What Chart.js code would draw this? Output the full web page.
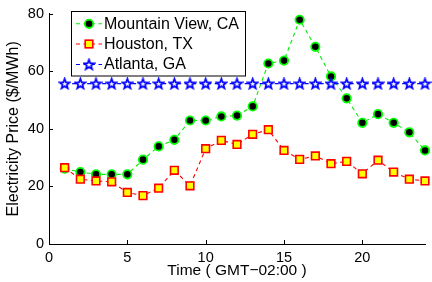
<!DOCTYPE html>
<html><head><meta charset="utf-8">
<script src="https://cdn.jsdelivr.net/npm/chart.js@4/dist/chart.umd.min.js"></script>
<style>html,body{margin:0;padding:0;background:#fff}</style>
</head><body>
<canvas id="c" width="432" height="282"></canvas>
<script>
const hours = [1,2,3,4,5,6,7,8,9,10,11,12,13,14,15,16,17,18,19,20,21,22,23,24];
const mountainView = [26.2,25.0,24.2,24.2,24.2,29.3,33.9,36.2,42.9,42.9,44.3,44.6,47.8,62.7,63.7,77.9,68.5,58.2,50.6,42.1,45.1,42.1,38.8,32.5];
const houston = [26.5,22.5,21.9,21.6,17.9,16.8,19.4,25.6,20.2,33.1,36.0,34.6,38.1,39.7,32.5,29.4,30.6,27.9,28.7,24.4,29.1,25.0,22.5,21.9];
const atlanta = [55.7,55.7,55.7,55.7,55.7,55.7,55.7,55.7,55.7,55.7,55.7,55.7,55.7,55.7,55.7,55.7,55.7,55.7,55.7,55.7,55.7,55.7,55.7,55.7];
const seriesLabels = ['Mountain View, CA','Houston, TX','Atlanta, GA'];
const xTicks = [0,5,10,15,20];
const yTicks = [0,20,40,60,80];
const xTitle = 'Time ( GMT\u221202:00 )';
const yTitle = 'Electricity Price ($/MWh)';

const FAM = '"Liberation Sans", Arial, sans-serif';
const TICKFONT = {family:FAM, size:14.5, lineHeight:1.2};
const XTFONT = {family:FAM, size:15.5, lineHeight:1.2};
const YTFONT = {family:FAM, size:16, lineHeight:1.2};

function makeStar(){
  const c=document.createElement('canvas'); c.width=13; c.height=13;
  const g=c.getContext('2d');
  g.beginPath();
  for(let k=0;k<10;k++){
    const r = k%2 ? 2.2 : 5.3;
    const a = -Math.PI/2 + k*Math.PI/5;
    g.lineTo(6.5 + r*Math.cos(a), 6.9 + r*Math.sin(a));
  }
  g.closePath();
  g.fillStyle='#ffffff'; g.fill();
  g.strokeStyle='#0000ff'; g.lineWidth=1.7; g.lineJoin='miter'; g.stroke();
  return c;
}
const starImg = makeStar();

const pts = vals => hours.map((h,i)=>({x:h, y:vals[i]}));

const dash = [4,3.5];
const datasets = [
  {label:seriesLabels[0], data:pts(mountainView), borderColor:'#00ee00', borderDash:dash, borderWidth:1.1,
   pointStyle:'circle', pointRadius:4.2, pointBackgroundColor:'#000', pointBorderColor:'#00ff00', pointBorderWidth:1.8, order:2, clip:false},
  {label:seriesLabels[1], data:pts(houston), borderColor:'#ff0000', borderDash:dash, borderWidth:1.1,
   pointStyle:'rect', pointRadius:5.4, pointBackgroundColor:'#ffff00', pointBorderColor:'#ff0000', pointBorderWidth:1.6, order:1, clip:false},
  {label:seriesLabels[2], data:pts(atlanta), borderColor:'#0000ff', borderDash:dash, borderWidth:1.1,
   pointStyle:starImg, pointRadius:5, order:0, clip:false}
];

const inwardTicks = {
  id:'inwardTicks',
  afterDraw(chart){
    const ctx=chart.ctx, xs=chart.scales.x, ys=chart.scales.y, a=chart.chartArea;
    ctx.save(); ctx.strokeStyle='#000'; ctx.lineWidth=1;
    xTicks.forEach(v=>{const px=Math.round(xs.getPixelForValue(v))+0.5; ctx.beginPath(); ctx.moveTo(px,a.bottom); ctx.lineTo(px,a.bottom-4); ctx.stroke();});
    yTicks.forEach(v=>{const py=Math.round(ys.getPixelForValue(v))+0.5; ctx.beginPath(); ctx.moveTo(a.left,py); ctx.lineTo(a.left+4,py); ctx.stroke();});
    ctx.restore();
  }
};

const boxLegend = {
  id:'boxLegend',
  afterDraw(chart){
    const ctx=chart.ctx;
    const bx=71.5, by=11.5, bw=174, bh=64.5;
    ctx.save();
    ctx.fillStyle='#fff'; ctx.fillRect(bx,by,bw,bh);
    ctx.strokeStyle='#000'; ctx.lineWidth=1; ctx.strokeRect(bx,by,bw,bh);
    const rows=[23.8,44,64.5];
    chart.data.datasets.forEach((ds,i)=>{
      const y=rows[i];
      ctx.save();
      ctx.strokeStyle=ds.borderColor; ctx.lineWidth=ds.borderWidth; ctx.setLineDash(ds.borderDash);
      ctx.beginPath(); ctx.moveTo(76,y); ctx.lineTo(102,y); ctx.stroke();
      ctx.restore();
      const mx=89;
      if(i===0){
        ctx.beginPath(); ctx.arc(mx,y,ds.pointRadius,0,Math.PI*2);
        ctx.fillStyle=ds.pointBackgroundColor; ctx.fill();
        ctx.strokeStyle=ds.pointBorderColor; ctx.lineWidth=ds.pointBorderWidth; ctx.stroke();
      } else if(i===1){
        const s=ds.pointRadius*Math.SQRT1_2;
        ctx.fillStyle=ds.pointBackgroundColor; ctx.fillRect(mx-s,y-s,2*s,2*s);
        ctx.strokeStyle=ds.pointBorderColor; ctx.lineWidth=ds.pointBorderWidth; ctx.strokeRect(mx-s,y-s,2*s,2*s);
      } else {
        ctx.drawImage(starImg, mx-starImg.width/2, y-starImg.height/2);
      }
      ctx.fillStyle='#000'; ctx.font='16px '+FAM;
      ctx.textBaseline='middle'; ctx.textAlign='left';
      ctx.fillText(ds.label,104,y+0.5);
    });
    ctx.restore();
  }
};

new Chart(document.getElementById('c'), {
  type:'line',
  data:{datasets},
  plugins:[inwardTicks, boxLegend],
  options:{
    responsive:false, animation:false, devicePixelRatio:1,
    layout:{padding:{top:13, right:4.6, bottom:0, left:0}},
    plugins:{legend:{display:false}, tooltip:{enabled:false}},
    elements:{line:{tension:0, fill:false}},
    scales:{
      x:{type:'linear', min:0, max:24,
        afterBuildTicks:s=>{s.ticks=xTicks.map(v=>({value:v}));},
        grid:{display:false, drawTicks:false},
        border:{display:true, color:'#000', width:1},
        ticks:{color:'#000', font:TICKFONT, padding:5, maxRotation:0, autoSkip:false},
        title:{display:true, text:xTitle, color:'#000', font:XTFONT, padding:{top:0,bottom:1.7}},
        afterFit:s=>{s.height=38;}
      },
      y:{type:'linear', min:0, max:80,
        afterBuildTicks:s=>{s.ticks=yTicks.map(v=>({value:v}));},
        grid:{display:false, drawTicks:false},
        border:{display:true, color:'#000', width:1},
        ticks:{color:'#000', font:TICKFONT, padding:5},
        title:{display:true, text:yTitle, color:'#000', font:YTFONT, padding:{top:4.4,bottom:0}},
        afterFit:s=>{s.width=49;}
      }
    }
  }
});
</script>
</body></html>
